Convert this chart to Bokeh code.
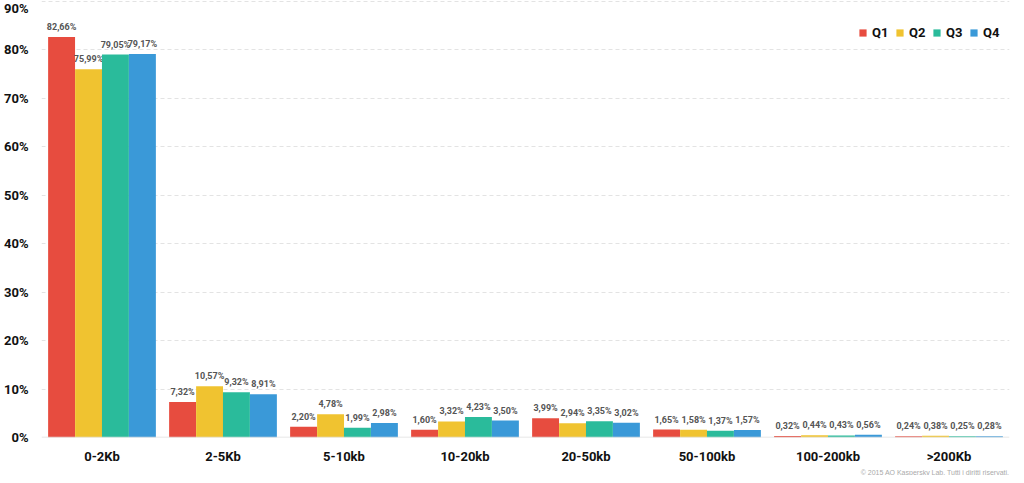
from bokeh.plotting import figure
from bokeh.models import ColumnDataSource, FactorRange, FixedTicker, PrintfTickFormatter, Span, Title
from bokeh.transform import dodge
from bokeh.core.properties import value
from bokeh.embed import file_html
from bokeh.resources import INLINE

sizes = ["0-2Kb", "2-5Kb", "5-10kb", "10-20kb", "20-50kb", "50-100kb", "100-200kb", ">200Kb"]
quarters = ["Q1", "Q2", "Q3", "Q4"]
q1 = [82.66, 7.32, 2.20, 1.60, 3.99, 1.65, 0.32, 0.24]
q2 = [75.99, 10.57, 4.78, 3.32, 2.94, 1.58, 0.44, 0.38]
q3 = [79.05, 9.32, 1.99, 4.23, 3.35, 1.37, 0.43, 0.25]
q4 = [79.17, 8.91, 2.98, 3.50, 3.02, 1.57, 0.56, 0.28]
y_ticks = [0, 10, 20, 30, 40, 50, 60, 70, 80, 90]
colors = ["#E74C3F", "#F0C330", "#2ABB9B", "#3A99D8"]
copyright_text = "\u00a9 2015 AO Kaspersky Lab. Tutti i diritti riservati."

FONT = "Roboto"

data = {"size": sizes, "Q1": q1, "Q2": q2, "Q3": q3, "Q4": q4}
for q in quarters:
    data[q + "_lbl"] = [("%.2f%%" % v).replace(".", ",") for v in data[q]]
src = ColumnDataSource(data)

p = figure(
    x_range=FactorRange(*sizes, range_padding=0),
    y_range=(0, 90.2),
    width=1010,
    height=475,
    min_border_left=31,
    min_border_right=1,
    min_border_top=0,
    min_border_bottom=38,
    toolbar_location=None,
    output_backend="svg",
)
p.outline_line_color = None

offsets = [-0.334, -0.111, 0.111, 0.334]
bw = 0.2225
for q, off, c in zip(quarters, offsets, colors):
    p.vbar(
        x=dodge("size", off, range=p.x_range),
        top=q,
        width=bw,
        source=src,
        fill_color=c,
        line_color=None,
        legend_label=q,
    )
    p.text(
        x=dodge("size", off, range=p.x_range),
        y=q,
        text=q + "_lbl",
        source=src,
        text_align="center",
        text_baseline="bottom",
        y_offset=-5,
        text_font=value(FONT),
        text_font_style="bold",
        text_font_size="9px",
        text_color="#555555",
    )

# axes
p.yaxis.ticker = FixedTicker(ticks=y_ticks)
p.yaxis.formatter = PrintfTickFormatter(format="%d%%")
for ax in (p.xaxis, p.yaxis):
    ax.axis_line_color = None
    ax.major_tick_line_color = None
    ax.minor_tick_line_color = None
    ax.major_label_text_font = FONT
    ax.major_label_text_font_style = "bold"
    ax.major_label_text_font_size = "13px"
    ax.major_label_text_color = "#111111"
p.yaxis.major_label_standoff = 7
p.xaxis.major_label_standoff = 5

p.xgrid.grid_line_color = None
p.ygrid.grid_line_color = "#e3e3e3"
p.ygrid.grid_line_dash = "4 3"
p.ygrid.grid_line_width = 1

p.add_layout(Span(location=0, dimension="width", line_color="#e0e0e0", line_width=1.5))

p.add_layout(Title(
    text=copyright_text, align="right", standoff=0,
    text_font="Liberation Sans", text_font_style="normal",
    text_font_size="7px", text_color="#aaaaaa",
), "below")

lg = p.legend[0]
lg.orientation = "horizontal"
lg.location = (817, 397)
lg.border_line_color = None
lg.background_fill_alpha = 0
lg.glyph_width = 9
lg.glyph_height = 9
lg.label_standoff = 5
lg.spacing = 3
lg.margin = 0
lg.padding = 0
lg.label_text_font = FONT
lg.label_text_font_style = "bold"
lg.label_text_font_size = "13px"
lg.label_text_color = "#111111"

open("out.html", "w").write(file_html(p, INLINE))
